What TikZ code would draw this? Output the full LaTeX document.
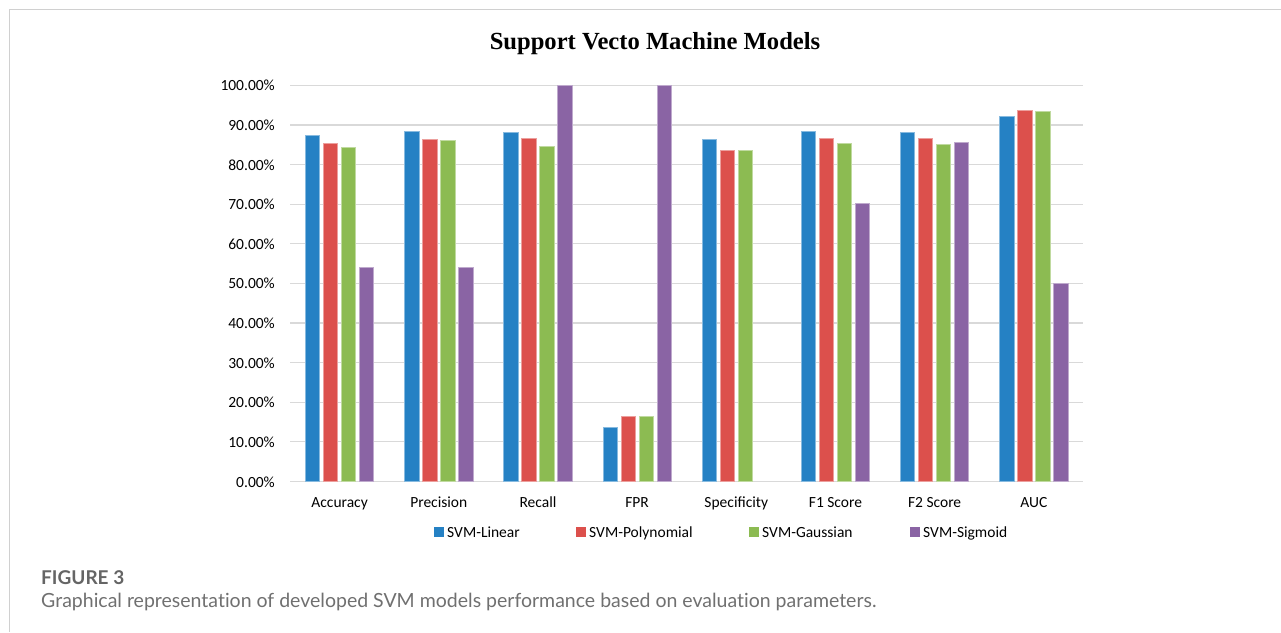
\documentclass[tikz,border=0pt]{standalone}
\usepackage{fontspec}
\usepackage{tikz}
\usetikzlibrary{positioning}
\newfontfamily\chartfont{Carlito}
\newfontfamily\titlefont{Liberation Serif}
\newfontfamily\capfont{Lato}[Ligatures={NoCommon,NoDiscretionary}]
\definecolor{svmblue}{RGB}{37,129,196}
\definecolor{svmred}{RGB}{220,80,76}
\definecolor{svmgreen}{RGB}{140,187,82}
\definecolor{svmpurple}{RGB}{138,100,164}
\definecolor{gridgray}{RGB}{217,217,217}
\definecolor{framegray}{RGB}{208,208,208}
\definecolor{captext}{RGB}{112,112,112}

\begin{document}
\begin{tikzpicture}[x=1pt, y=-1pt,
  gridline/.style={draw=gridgray, line width=1.2pt},
  bar/.style={line width=0.6pt},
  ticklabel/.style={anchor=base east, inner sep=0pt, font=\chartfont\fontsize{15.5}{18}\selectfont},
  catlabel/.style={anchor=base, inner sep=0pt, font=\chartfont\fontsize{15.5}{18}\selectfont},
  legbox/.style={draw=none, inner sep=0pt, minimum size=10.5pt},
  legtext/.style={anchor=base west, inner sep=0pt, font=\chartfont\fontsize{15.5}{18}\selectfont}]
  \useasboundingbox (0,0) rectangle (1281,632);
  \fill[white] (0,0) rectangle (1281,632);
  \draw[framegray, line width=1.5pt] (1281,9.5) -- (9.5,9.5) -- (9.5,632);

  % title
  \node[anchor=base, inner sep=0pt, font=\titlefont\bfseries\fontsize{24.6}{28}\selectfont] (title) at (655,49) {Support Vecto Machine Models};

  % grid and y axis
  \foreach \t in {0,...,10} {
    \pgfmathtruncatemacro\pct{10*\t}
    \draw[gridline] (290,{481.5-39.62*\t}) -- (1083,{481.5-39.62*\t});
    \node[ticklabel] (tick\t) at (275,{487-39.62*\t}) {\pct.00\%};
  }

  % bars, one series at a time
  \foreach \col/\k/\vals in {svmblue/0/{87.3,88.4,88.1,13.8,86.3,88.3,88.2,92.1},
                             svmred/1/{85.3,86.3,86.7,16.4,83.7,86.5,86.6,93.6},
                             svmgreen/2/{84.3,86.0,84.7,16.4,83.6,85.3,85.0,93.5},
                             svmpurple/3/{54.1,54.1,100,100,0,70.2,85.6,50.1}}
    \foreach \v [count=\c from 0] in \vals {
      \ifdim \v pt>0pt
        \filldraw[bar, fill=\col, draw=\col!55!white] ({305.4+99.17*\c+18*\k},481.5) rectangle +(14.3,{-3.962*\v});
      \fi
    }

  % categories
  \foreach \name [count=\c from 0] in {Accuracy, Precision, Recall, FPR, Specificity, F1 Score, F2 Score, AUC}
    \node[catlabel] (cat\c) at ({339.6+99.17*\c},507.5) {\name};

  % legend
  \foreach \col/\sx/\name [count=\i] in {svmblue/434/SVM-Linear, svmred/576/SVM-Polynomial,
                                         svmgreen/749/SVM-Gaussian, svmpurple/910/SVM-Sigmoid} {
    \node[legbox, fill=\col] (box\i) at (\sx+5,532) {};
    \node[legtext] (leg\i) at (\sx+13,537) {\name};
  }

  % caption
  \node[anchor=base west, inner sep=0pt, text=captext!90!black, font=\capfont\bfseries\fontsize{19}{22}\selectfont] (fignum) at (41,584) {FIGURE 3};
  \node[anchor=base west, inner sep=0pt, text=captext, font=\capfont\fontsize{19.5}{22}\selectfont] (figcap) at (41,607.5) {Graphical representation of developed SVM models performance based on evaluation parameters.};
\end{tikzpicture}
\end{document}
